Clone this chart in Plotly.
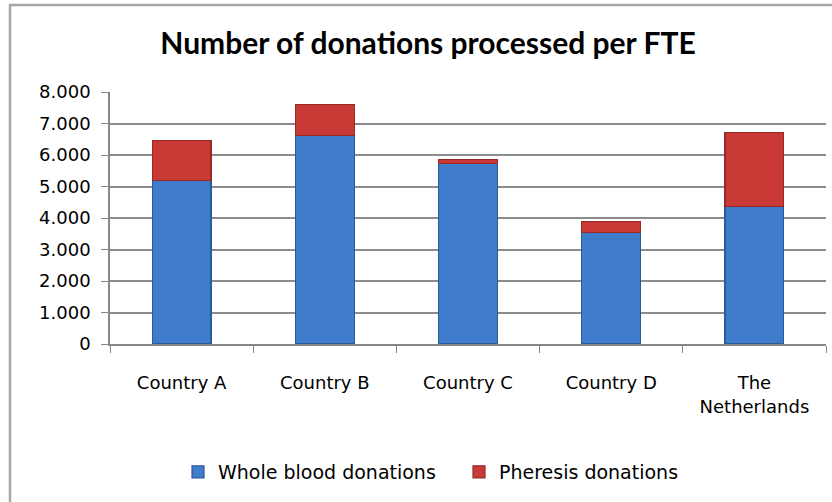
import plotly.graph_objects as go

categories = ["Country A", "Country B", "Country C", "Country D", "The<br>Netherlands"]
whole_blood = [5200, 6620, 5730, 3540, 4370]
pheresis = [1270, 980, 130, 360, 2340]
y_tickvals = [0, 1000, 2000, 3000, 4000, 5000, 6000, 7000, 8000]
y_ticktext = ["0", "1.000", "2.000", "3.000", "4.000", "5.000", "6.000", "7.000", "8.000"]

W, H = 832, 502
L, R, T, B = 110, 6, 92, 158
pw, ph = W - L - R, H - T - B

fig = go.Figure()
fig.add_trace(go.Bar(
    x=categories, y=whole_blood, name="Whole blood donations",
    marker=dict(color="#3F7CCB", line=dict(color="#2B5A98", width=1.2)),
))
fig.add_trace(go.Bar(
    x=categories, y=pheresis, name="Pheresis donations",
    marker=dict(color="#C93A36", line=dict(color="#972926", width=1.2)),
))

axis_font = dict(family="DejaVu Sans", size=18, color="#000000")

fig.update_layout(
    width=W, height=H,
    barmode="stack", bargap=0.59,
    paper_bgcolor="white", plot_bgcolor="white",
    margin=dict(l=L, r=R, t=T, b=B, autoexpand=False),
    title=dict(
        text="<b>Number of donations processed per FTE</b>",
        font=dict(family="Lato", size=30, color="#000000"),
        x=428 / W, xref="container", xanchor="center",
        y=1 - 43 / H, yref="container", yanchor="middle",
    ),
    legend=dict(
        orientation="h", xref="container", yref="container",
        x=459 / W, xanchor="center", y=1 - 472 / H, yanchor="middle",
        font=dict(family="DejaVu Sans", size=19, color="#000000"),
        itemwidth=30, traceorder="normal", entrywidth=236, entrywidthmode="pixels",
        bgcolor="rgba(0,0,0,0)",
    ),
    xaxis=dict(
        type="category", tickson="boundaries", ticks="outside", ticklen=7,
        tickcolor="#868686", showline=True, linecolor="#868686", linewidth=1.5,
        tickfont=axis_font, showgrid=False, ticklabelstandoff=22,
    ),
    yaxis=dict(
        range=[0, 8000], tickvals=y_tickvals, ticktext=y_ticktext,
        ticks="outside", ticklen=7, tickcolor="#868686",
        showline=True, linecolor="#868686", linewidth=1.5,
        showgrid=True, gridcolor="#8C8C8C", gridwidth=1.5,
        tickfont=axis_font, ticklabelstandoff=7, zeroline=False,
    ),
    shapes=[dict(
        type="rect", xref="paper", yref="paper", layer="below",
        x0=(10 - L) / pw, x1=(836 - L) / pw,
        y0=(T + ph - 510) / ph, y1=(T + ph - 5) / ph,
        line=dict(color="#A6A6A6", width=2.5), fillcolor="rgba(0,0,0,0)",
    )],
)

fig.write_html(
    "out.html",
    config={"displayModeBar": False},
    post_script="document.body.style.margin='0';document.body.style.overflow='hidden';",
)
